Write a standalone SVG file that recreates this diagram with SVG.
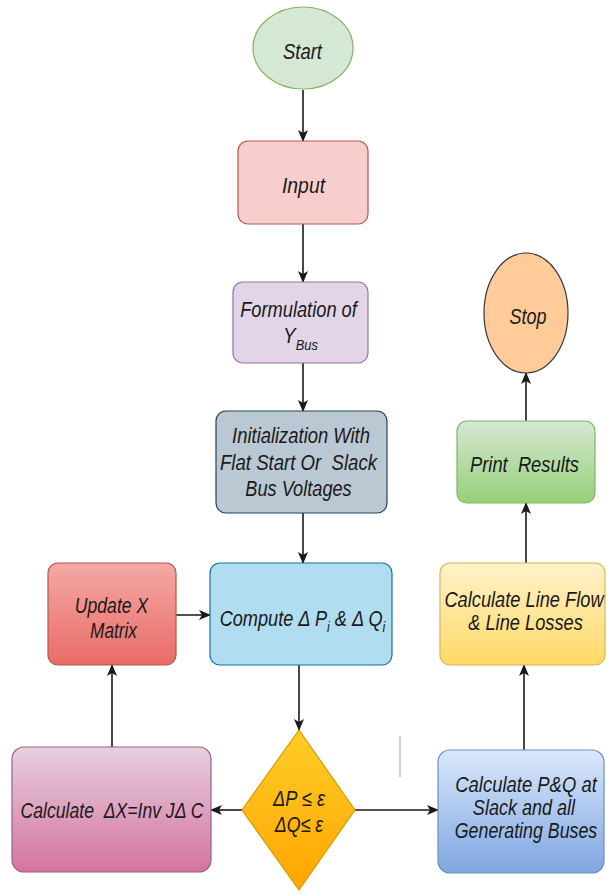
<svg xmlns="http://www.w3.org/2000/svg" width="607" height="895" viewBox="0 0 607 895">
<style>
  text { font-family: "Liberation Sans", Arial, sans-serif; font-style: italic; font-size: 22px; fill: #1a1a1a; text-anchor: middle; white-space: pre; }
  .sub { font-size: 15px; }
  .edge { stroke: #1a1a1a; stroke-width: 1.6; fill: none; marker-end: url(#arr); }
  .node { stroke-width: 1.2; }
</style>
<defs>
  <marker id="arr" viewBox="0 0 12 10" refX="11" refY="5" markerWidth="12" markerHeight="10" markerUnits="userSpaceOnUse" orient="auto">
    <path d="M0,0 L12,5 L0,10 L3,5 Z" fill="#1a1a1a"/>
  </marker>
  <linearGradient id="gRed" x1="0" y1="0" x2="0" y2="1"><stop offset="0" stop-color="#f4a9a6"/><stop offset="1" stop-color="#ea6b66"/></linearGradient>
  <linearGradient id="gPink" x1="0" y1="0" x2="0" y2="1"><stop offset="0" stop-color="#e6d0de"/><stop offset="1" stop-color="#d5739d"/></linearGradient>
  <linearGradient id="gYel" x1="0" y1="0" x2="0" y2="1"><stop offset="0" stop-color="#ffcd28"/><stop offset="1" stop-color="#ffa500"/></linearGradient>
  <linearGradient id="gBlue" x1="0" y1="0" x2="0" y2="1"><stop offset="0" stop-color="#dae8fc"/><stop offset="1" stop-color="#7ea6e0"/></linearGradient>
  <linearGradient id="gCream" x1="0" y1="0" x2="0" y2="1"><stop offset="0" stop-color="#fff2cc"/><stop offset="1" stop-color="#ffd966"/></linearGradient>
  <linearGradient id="gGreen" x1="0" y1="0" x2="0" y2="1"><stop offset="0" stop-color="#d5e8d4"/><stop offset="1" stop-color="#97d077"/></linearGradient>
</defs>
<rect width="607" height="895" fill="#ffffff"/>

<g id="connectors">
  <line class="edge" x1="303" y1="90" x2="303" y2="141"/>
  <line class="edge" x1="303" y1="224" x2="303" y2="282"/>
  <line class="edge" x1="303" y1="363" x2="303" y2="411"/>
  <line class="edge" x1="303" y1="513" x2="303" y2="563"/>
  <line class="edge" x1="299" y1="665" x2="299" y2="730"/>
  <line class="edge" x1="242" y1="810" x2="211" y2="810"/>
  <line class="edge" x1="112" y1="747" x2="112" y2="665"/>
  <line class="edge" x1="176" y1="615" x2="210" y2="615"/>
  <line class="edge" x1="355" y1="810" x2="438" y2="810"/>
  <line class="edge" x1="524" y1="750" x2="524" y2="665"/>
  <line class="edge" x1="526" y1="563" x2="526" y2="503"/>
  <line class="edge" x1="526" y1="421" x2="526" y2="373"/>
</g>

<line x1="400" y1="736" x2="400" y2="777" stroke="#d0d0d0" stroke-width="2"/>

<g id="start">
  <ellipse class="node" cx="303" cy="48" rx="50" ry="41" fill="#d5e8d4" stroke="#82b366"/>
  <text transform="translate(302.5,59) scale(0.84,1)">Start</text>
</g>
<g id="input">
  <rect class="node" x="238" y="141" width="130" height="83" rx="10" fill="#f8cecc" stroke="#b85450"/>
  <text transform="translate(303.5,193) scale(0.88,1)">Input</text>
</g>
<g id="ybus">
  <rect class="node" x="233" y="282" width="135" height="81" rx="10" fill="#e1d5e7" stroke="#9673a6"/>
  <text transform="translate(298.5,317) scale(0.83,1)">Formulation of</text>
  <text transform="translate(300.5,343) scale(0.86,1)">Y<tspan class="sub" dy="7">Bus</tspan></text>
</g>
<g id="init">
  <rect class="node" x="216" y="411" width="171" height="102" rx="10" fill="#bac8d3" stroke="#23445d"/>
  <text transform="translate(301,443) scale(0.836,1)">Initialization With</text>
  <text transform="translate(298.5,470) scale(0.845,1)">Flat Start Or  Slack</text>
  <text transform="translate(298.5,496) scale(0.826,1)">Bus Voltages</text>
</g>
<g id="compute">
  <rect class="node" x="210" y="563" width="182" height="102" rx="10" fill="#b1ddf0" stroke="#10739e"/>
  <text transform="translate(302.5,626) scale(0.826,1)">Compute Δ P<tspan class="sub" dy="6">i</tspan><tspan dy="-6"> &amp; Δ Q</tspan><tspan class="sub" dy="6">i</tspan></text>
</g>
<g id="update">
  <rect class="node" x="48" y="563" width="128" height="102" rx="10" fill="url(#gRed)" stroke="#b85450"/>
  <text transform="translate(111.5,613) scale(0.80,1)">Update X</text>
  <text transform="translate(113.5,638) scale(0.785,1)">Matrix</text>
</g>
<g id="calcdx">
  <rect class="node" x="12" y="747" width="199" height="125" rx="12" fill="url(#gPink)" stroke="#996185"/>
  <text transform="translate(112,818) scale(0.80,1)">Calculate  ΔX=Inv JΔ C</text>
</g>
<g id="decision">
  <polygon class="node" points="299,730 355,810 299,890 242,810" fill="url(#gYel)" stroke="#d79b00"/>
  <text transform="translate(299,806) scale(0.83,1)">ΔP ≤ ε</text>
  <text transform="translate(299,832) scale(0.81,1)">ΔQ≤ ε</text>
</g>
<g id="calcpq">
  <rect class="node" x="438" y="750" width="166" height="123" rx="12" fill="url(#gBlue)" stroke="#6c8ebf"/>
  <text transform="translate(526,792) scale(0.84,1)">Calculate P&amp;Q at</text>
  <text transform="translate(524,815) scale(0.82,1)">Slack and all</text>
  <text transform="translate(526,838) scale(0.81,1)">Generating Buses</text>
</g>
<g id="lineflow">
  <rect class="node" x="440" y="563" width="165" height="102" rx="10" fill="url(#gCream)" stroke="#d6b656"/>
  <text transform="translate(524,607) scale(0.83,1)">Calculate Line Flow</text>
  <text transform="translate(525.5,630) scale(0.83,1)">&amp; Line Losses</text>
</g>
<g id="print">
  <rect class="node" x="457" y="421" width="138" height="82" rx="10" fill="url(#gGreen)" stroke="#82b366"/>
  <text transform="translate(524.5,472) scale(0.833,1)">Print  Results</text>
</g>
<g id="stop">
  <ellipse class="node" cx="526" cy="313" rx="42" ry="60" fill="#ffcc99" stroke="#36393d"/>
  <text transform="translate(528,324) scale(0.82,1)">Stop</text>
</g>
</svg>
